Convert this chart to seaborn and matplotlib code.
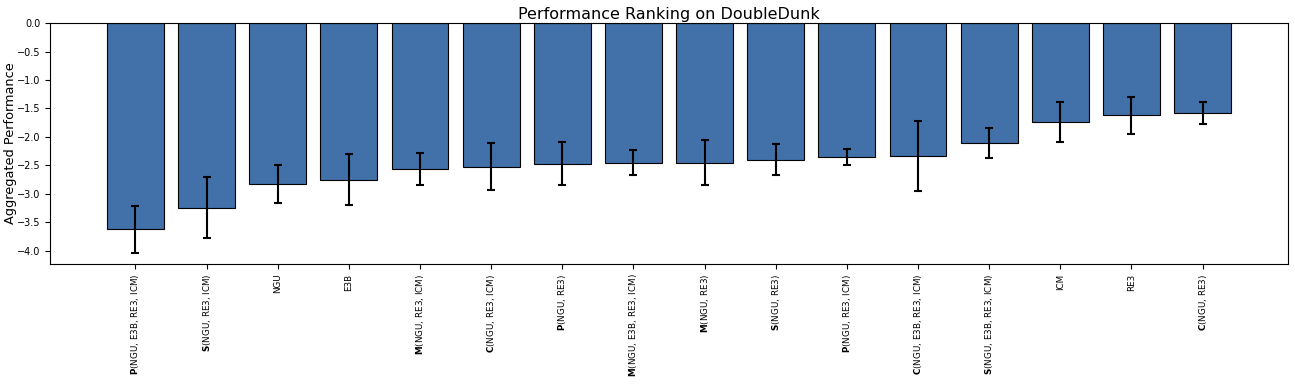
import pandas as pd
import matplotlib
matplotlib.use("Agg")
import matplotlib.pyplot as plt
import seaborn as sns

# Ranking data
prefixes = ["P", "S", "", "", "M", "C", "P", "M", "M", "S", "P", "C", "S", "", "", "C"]
members = ["(NGU, E3B, RE3, ICM)", "(NGU, RE3, ICM)", "NGU", "E3B", "(NGU, RE3, ICM)",
           "(NGU, RE3, ICM)", "(NGU, RE3)", "(NGU, E3B, RE3, ICM)", "(NGU, RE3)", "(NGU, RE3)",
           "(NGU, RE3, ICM)", "(NGU, E3B, RE3, ICM)", "(NGU, E3B, RE3, ICM)", "ICM", "RE3", "(NGU, RE3)"]
performance = [-3.62, -3.24, -2.83, -2.75, -2.56, -2.52, -2.47, -2.45,
               -2.45, -2.40, -2.35, -2.33, -2.11, -1.74, -1.62, -1.58]
errors = [0.41, 0.54, 0.33, 0.45, 0.28, 0.41, 0.38, 0.22,
          0.39, 0.27, 0.14, 0.61, 0.26, 0.35, 0.33, 0.19]

labels = [(r"$\mathbf{%s}$" % p if p else "") + m for p, m in zip(prefixes, members)]
df = pd.DataFrame({"method": labels, "perf": performance, "err": errors})

fig, ax = plt.subplots(figsize=(12.95, 3.84), dpi=100)
sns.barplot(data=df, x="method", y="perf", color="#4270A8", saturation=1,
            edgecolor="black", linewidth=0.8, width=0.8, errorbar=None, ax=ax)
ax.errorbar(range(len(df)), df["perf"], yerr=df["err"], fmt="none",
            ecolor="black", elinewidth=1.5, capsize=3, capthick=1.5)

ax.set_xlim(-1.2, len(df) - 1 + 1.2)
ax.set_ylim(-4.23, 0)
ax.set_title("Performance Ranking on DoubleDunk", fontsize=11.5, pad=3)
ax.set_ylabel("Aggregated Performance", fontsize=9.3)
ax.yaxis.set_label_coords(-0.027, 0.5)
ax.set_xlabel("")
ax.tick_params(axis="x", labelrotation=90, labelsize=6.3)
ax.tick_params(axis="y", labelsize=7)
for lab in ax.get_xticklabels():
    lab.set_verticalalignment("top")

plt.subplots_adjust(left=0.0386, right=0.9946, top=0.94, bottom=0.3125)
plt.savefig("out.png", dpi=100)
